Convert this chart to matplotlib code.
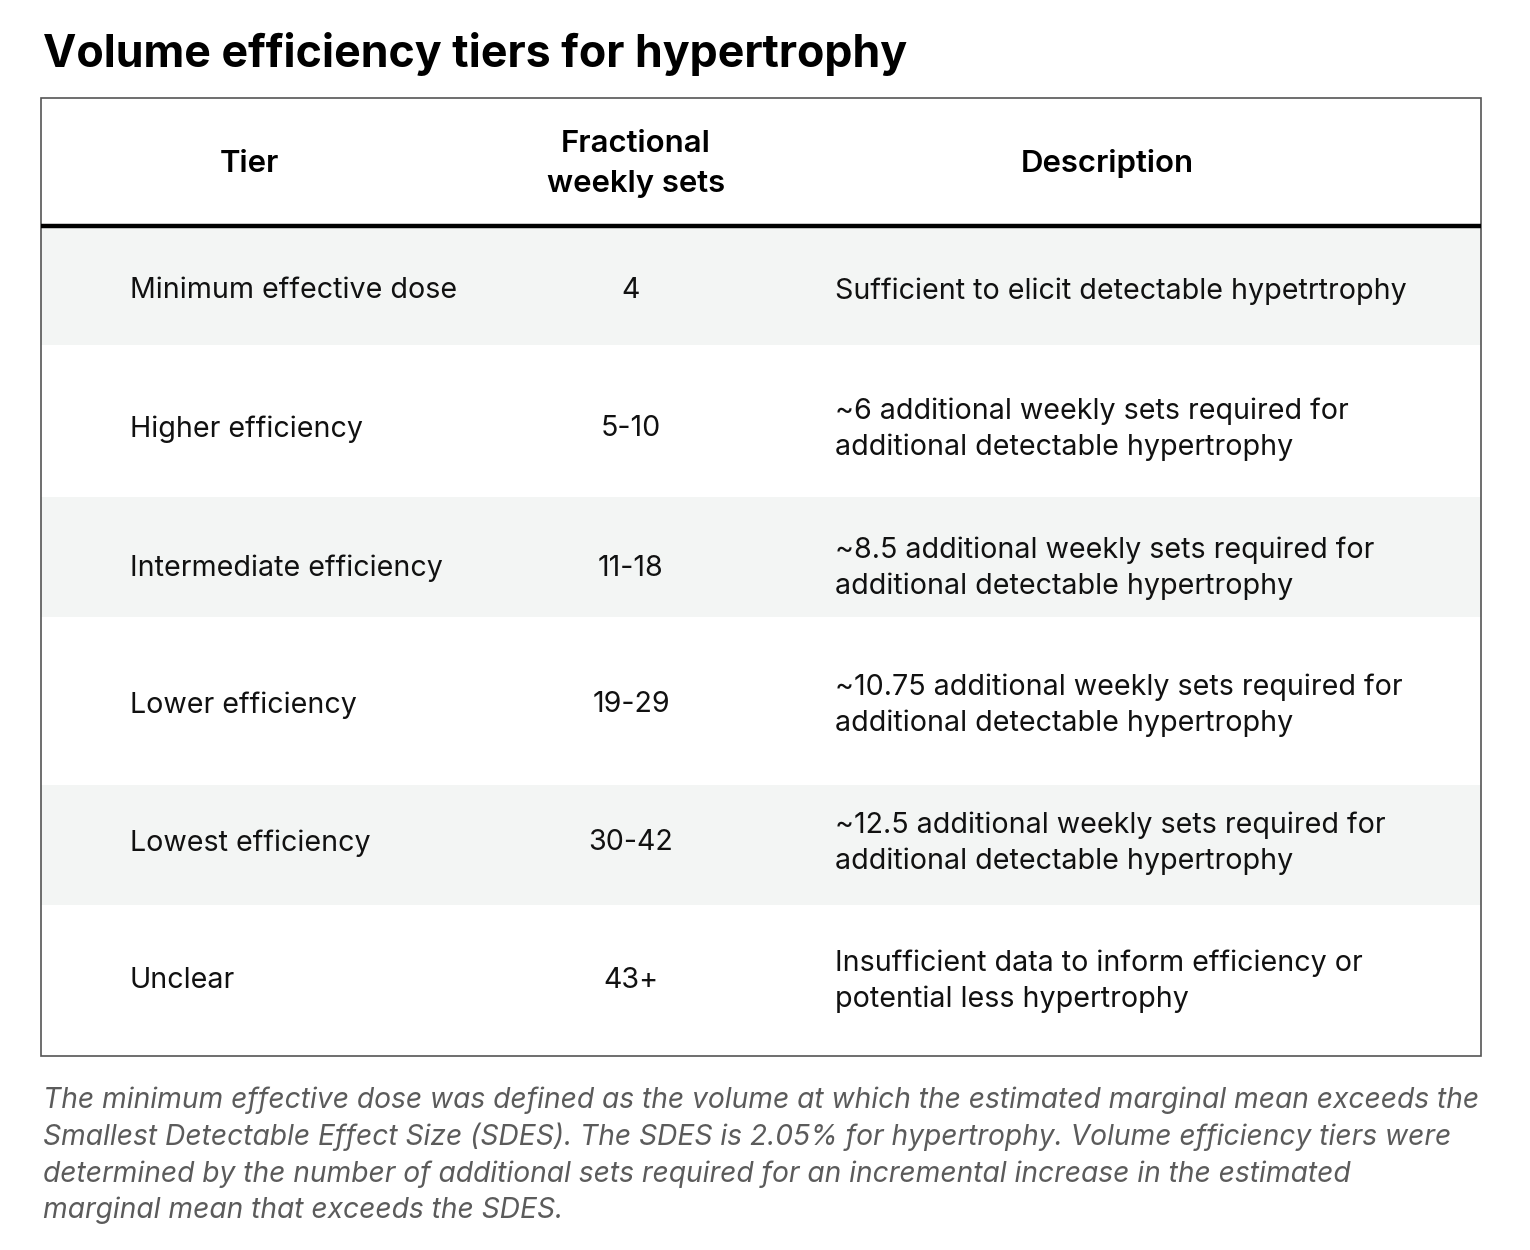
import matplotlib.pyplot as plt
from matplotlib.patches import Rectangle

plt.rcParams['font.family'] = ['Inter', 'DejaVu Sans']

title = "Volume efficiency tiers for hypertrophy"
headers = ["Tier", "Fractional\nweekly sets", "Description"]
tiers = ["Minimum effective dose", "Higher efficiency", "Intermediate efficiency",
         "Lower efficiency", "Lowest efficiency", "Unclear"]
weekly_sets = ["4", "5-10", "11-18", "19-29", "30-42", "43+"]
descriptions = [
    "Sufficient to elicit detectable hypetrtrophy",
    "~6 additional weekly sets required for\nadditional detectable hypertrophy",
    "~8.5 additional weekly sets required for\nadditional detectable hypertrophy",
    "~10.75 additional weekly sets required for\nadditional detectable hypertrophy",
    "~12.5 additional weekly sets required for\nadditional detectable hypertrophy",
    "Insufficient data to inform efficiency or\npotential less hypertrophy",
]
footnote = ("The minimum effective dose was defined as the volume at which the estimated marginal mean exceeds the\n"
            "Smallest Detectable Effect Size (SDES). The SDES is 2.05% for hypertrophy. Volume efficiency tiers were\n"
            "determined by the number of additional sets required for an incremental increase in the estimated\n"
            "marginal mean that exceeds the SDES.")

# layout in pixels
W, H = 1530, 1250
left, right = 41, 1481
top, header_bottom = 98, 226
row_edges = [227, 345, 497, 617, 785, 905, 1056]
text_y = [291, 429, 568, 705, 843, 981]
shade = "#f3f5f4"

fig = plt.figure(figsize=(W / 100, H / 100), dpi=100)
ax = fig.add_axes([0, 0, 1, 1])
ax.set_xlim(0, W)
ax.set_ylim(H, 0)
ax.axis("off")

ax.text(43, 54, title, fontsize=32.2, fontweight="bold", ha="left", va="center", color="#000000")

# rows
for i in range(len(tiers)):
    y0, y1 = row_edges[i], row_edges[i + 1]
    if i % 2 == 0:
        ax.add_patch(Rectangle((left, y0), right - left, y1 - y0, facecolor=shade, edgecolor="none"))
    yc = text_y[i]
    ax.text(130, yc, tiers[i], fontsize=20.6, ha="left", va="center", color="#111111")
    ax.text(631, yc, weekly_sets[i], fontsize=20.6, ha="center", va="center", color="#111111")
    ax.text(835, yc, descriptions[i], fontsize=20.6, ha="left", va="center", color="#111111",
            linespacing=1.4)

# header
hx = [249, 636, 1107]
for x, h in zip(hx, headers):
    ax.text(x, 164, h, fontsize=22.4, fontweight="semibold", ha="center", va="center",
            color="#000000", linespacing=1.5)
ax.plot([left, right], [header_bottom, header_bottom], color="#000000", lw=3.2, solid_capstyle="butt")

# border
ax.add_patch(Rectangle((left, top), right - left, row_edges[-1] - top, facecolor="none",
                       edgecolor="#555555", lw=1.2))

ax.text(43, 1155, footnote, fontsize=20.3, fontstyle="italic", ha="left", va="center",
        color="#5b5b5b", linespacing=1.4)

fig.savefig("out.png", dpi=100)
